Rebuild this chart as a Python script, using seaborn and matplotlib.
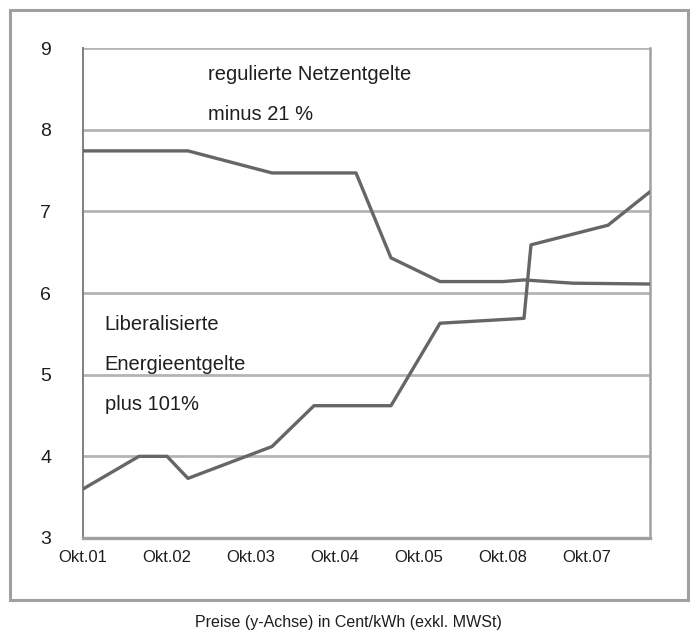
import pandas as pd
import matplotlib
matplotlib.use("Agg")
import matplotlib.pyplot as plt
from matplotlib.patches import Rectangle
import seaborn as sns

sns.set_style("white")
plt.rcParams["font.family"] = ["Liberation Sans", "DejaVu Sans"]

# months since Okt.01
netz_months = [0, 15, 27, 39, 44, 51, 60, 63, 70, 81]
netz_values = [7.74, 7.74, 7.47, 7.47, 6.43, 6.14, 6.14, 6.16, 6.12, 6.11]

energie_months = [0, 8, 12, 15, 27, 33, 44, 51, 63, 64, 75, 81]
energie_values = [3.60, 4.00, 4.00, 3.73, 4.12, 4.62, 4.62, 5.63, 5.69, 6.59, 6.83, 7.24]

tick_months = [0, 12, 24, 36, 48, 60, 72]
tick_labels = ["Okt.01", "Okt.02", "Okt.03", "Okt.04", "Okt.05", "Okt.08", "Okt.07"]

line_col = "#666666"
grid_col = "#b4b4b4"
text_col = "#1e1e1e"

netz = pd.DataFrame({"monat": netz_months, "preis": netz_values})
energie = pd.DataFrame({"monat": energie_months, "preis": energie_values})

fig = plt.figure(figsize=(6.98, 6.38), dpi=100)
ax = fig.add_axes([83 / 698, 1 - 538 / 638, (650 - 83) / 698, (538 - 48) / 638])

# outer frame
fig.patches.append(Rectangle((10 / 698, 1 - 600 / 638), 678 / 698, 590 / 638,
                             transform=fig.transFigure, fill=False,
                             edgecolor="#a0a0a0", linewidth=2.2))

for v in range(4, 10):
    ax.axhline(v, color=grid_col, lw=2.0, zorder=1)

sns.lineplot(data=netz, x="monat", y="preis", ax=ax, color=line_col, lw=2.4, zorder=3)
sns.lineplot(data=energie, x="monat", y="preis", ax=ax, color=line_col, lw=2.4, zorder=3)

ax.set_xlim(0, 81)
ax.set_ylim(3, 9)
ax.set_xticks(tick_months)
ax.set_xticklabels(tick_labels, fontsize=12, color=text_col)
ax.set_yticks(range(3, 10))
ax.set_yticklabels([str(v) for v in range(3, 10)], fontsize=14, color=text_col)
ax.set_xlabel("")
ax.set_ylabel("")

for side in ["left", "bottom", "right"]:
    ax.spines[side].set_visible(True)
    ax.spines[side].set_color("#a0a0a0")
    ax.spines[side].set_linewidth(1.8)
ax.spines["bottom"].set_linewidth(2.4)
ax.spines["left"].set_color("#808080")
ax.spines["left"].set_linewidth(1.4)
ax.spines["top"].set_visible(False)

ax.tick_params(axis="y", direction="out", length=6, width=1.2, color="#808080", pad=17)
ax.tick_params(axis="x", direction="out", length=4, width=1.2, color="#808080", pad=5)

fs = 14.5
ax.text(17.8, 8.67, "regulierte Netzentgelte", fontsize=fs, va="center", ha="left", color=text_col)
ax.text(17.8, 8.18, "minus 21 %", fontsize=fs, va="center", ha="left", color=text_col)
ax.text(3.1, 5.61, "Liberalisierte", fontsize=fs, va="center", ha="left", color=text_col)
ax.text(3.1, 5.12, "Energieentgelte", fontsize=fs, va="center", ha="left", color=text_col)
ax.text(3.1, 4.63, "plus 101%", fontsize=fs, va="center", ha="left", color=text_col)

fig.text(348 / 698, 1 - 622 / 638, "Preise (y-Achse) in Cent/kWh (exkl. MWSt)",
         ha="center", va="center", fontsize=11.5, color=text_col)

fig.savefig("out.png", dpi=100)
